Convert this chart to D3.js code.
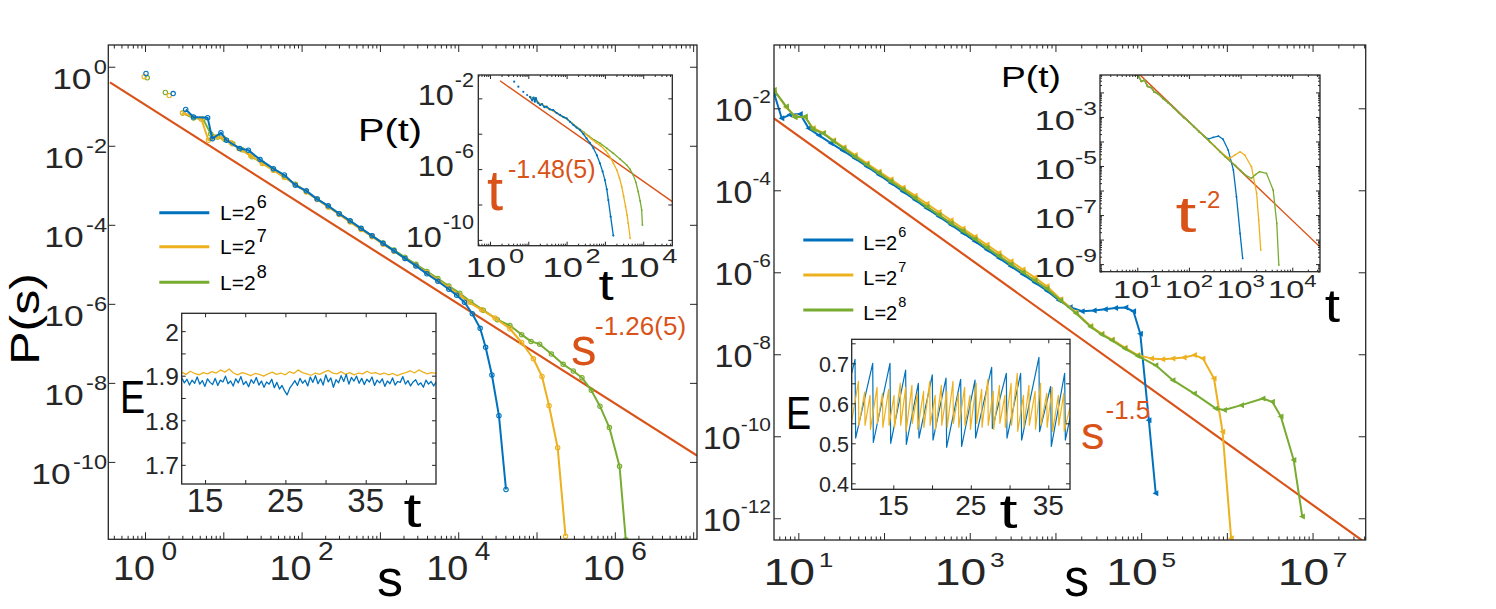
<!DOCTYPE html>
<html><head><meta charset="utf-8">
<script src="https://cdn.jsdelivr.net/npm/d3@7"></script>
<style>
body{margin:0;background:#fff;}
svg text{font-family:"Liberation Sans",Arial,Helvetica,sans-serif;}
</style>
</head><body>
<svg id="c" width="1496" height="609"></svg>
<script>
// ================= DATA =================
// Left main panel: P(s) vs s  (pairs [s, P])
const sL_blue = [[1.03,0.676],[2.29,0.209],[3.31,0.0832],[4.17,0.0537],[6.31,0.0513],[7.24,0.0151],[9.33,0.0214],[11.0,0.0138],[16.2,8.51e-3],[20.9,7.76e-3],[29.5,4.47e-3],[43.7,2.63e-3],[60.3,1.82e-3],[83.2,1.00e-3],[115,7.24e-4],[158,4.47e-4],[219,3.02e-4],[302,1.91e-4],[417,1.26e-4],[575,8.13e-5],[794,5.25e-5],[1096,3.39e-5],[1514,2.19e-5],[2089,1.41e-5],[2884,9.12e-6],[3981,5.75e-6],[5495,3.72e-6],[7586,2.34e-6],[9550,1.66e-6],[12020,1.10e-6],[15140,5.62e-7],[19050,2.40e-7],[22390,7.94e-8],[26920,1.58e-8],[33110,1.48e-9],[40740,2.00e-11]];
const sL_yellow = [[0.977,0.562],[2.04,0.186],[3.02,0.0676],[5.25,0.0468],[6.46,0.0138],[7.94,0.0166],[10.0,0.0158],[12.6,0.0120],[15.8,8.51e-3],[22.4,5.62e-3],[31.6,3.55e-3],[43.7,2.40e-3],[60.3,1.58e-3],[83.2,1.05e-3],[115,6.76e-4],[158,4.37e-4],[219,2.82e-4],[302,1.82e-4],[417,1.17e-4],[575,7.59e-5],[794,5.01e-5],[1096,3.24e-5],[1514,2.14e-5],[2089,1.41e-5],[2884,9.33e-6],[3981,6.17e-6],[5495,3.98e-6],[7586,2.57e-6],[10470,1.66e-6],[13490,1.12e-6],[19950,7.08e-7],[29510,4.37e-7],[45710,2.34e-7],[64570,1.05e-7],[91200,4.07e-8],[117500,1.45e-8],[144500,2.63e-9],[186200,2.29e-10],[234400,1.32e-12]];
const sL_green = [[1.07,0.525],[1.82,0.224],[3.02,0.0676],[4.17,0.0501],[5.50,0.0479],[6.92,0.0200],[8.51,0.0166],[10.5,0.0145],[13.2,0.0112],[17.4,7.94e-3],[23.4,5.25e-3],[31.6,3.63e-3],[43.7,2.45e-3],[60.3,1.62e-3],[83.2,1.07e-3],[115,6.92e-4],[158,4.47e-4],[219,2.88e-4],[302,1.91e-4],[417,1.23e-4],[575,7.94e-5],[794,5.25e-5],[1096,3.47e-5],[1514,2.29e-5],[2089,1.51e-5],[2884,1.00e-5],[3981,6.61e-6],[5495,4.37e-6],[7586,2.82e-6],[10470,1.86e-6],[14450,1.12e-6],[20890,6.92e-7],[31620,3.98e-7],[45710,2.82e-7],[64570,1.66e-7],[85110,1.12e-7],[109600,9.55e-8],[154900,5.37e-8],[218800,2.95e-8],[295100,2.00e-8],[380200,1.35e-8],[501200,6.46e-9],[645700,2.57e-9],[851100,7.41e-10],[1148000,7.76e-11],[1380000,1.07e-12]];
const sL_fitS = [0.357, 1.12e7];
const sL_fitP = [0.402, 1.44e-10];

// Right main panel: P(s) vs s
const sR_blue = [[5.20,2.34e-2],[6.40,5.70e-3],[7.94,6.92e-3],[10.5,7.24e-3],[13.2,3.24e-3],[17.4,2.19e-3],[24.0,1.41e-3],[33.1,9.33e-4],[45.7,6.03e-4],[63.1,3.80e-4],[87.1,2.40e-4],[120,1.51e-4],[166,9.33e-5],[229,5.89e-5],[316,3.63e-5],[437,2.29e-5],[603,1.45e-5],[832,9.12e-6],[1148,5.75e-6],[1585,3.55e-6],[2188,2.24e-6],[3020,1.41e-6],[4169,8.91e-7],[5754,5.62e-7],[7943,3.55e-7],[10960,2.09e-7],[14790,1.41e-7],[20420,1.12e-7],[28180,1.17e-7],[38020,1.26e-7],[50120,1.35e-7],[66070,1.38e-7],[81280,1.12e-7],[97720,3.16e-8],[123000,2.45e-10],[147900,4.07e-12]];
const sR_yellow = [[5.20,2.79e-2],[7.24,1.05e-2],[9.12,6.31e-3],[12.0,6.03e-3],[14.8,3.31e-3],[19.5,2.51e-3],[25.7,1.66e-3],[33.9,1.12e-3],[45.7,7.24e-4],[63.1,4.57e-4],[87.1,2.88e-4],[120,1.86e-4],[166,1.17e-4],[229,7.41e-5],[316,4.68e-5],[437,2.95e-5],[603,1.86e-5],[832,1.17e-5],[1148,7.41e-6],[1585,4.68e-6],[2188,2.95e-6],[3020,1.86e-6],[4169,1.17e-6],[5754,7.41e-7],[7943,4.57e-7],[11480,2.19e-7],[17380,1.05e-7],[25700,4.90e-8],[34670,3.16e-8],[45710,2.29e-8],[64570,1.45e-8],[91200,9.55e-9],[131800,7.94e-9],[177800,7.59e-9],[234400,7.94e-9],[316200,8.32e-9],[416900,9.55e-9],[524800,7.94e-9],[707900,2.57e-9],[891300,1.29e-10],[1122000,3.24e-13]];
const sR_green = [[5.20,2.79e-2],[7.24,1.10e-2],[9.12,6.03e-3],[12.0,6.31e-3],[14.8,3.09e-3],[19.5,2.45e-3],[25.7,1.58e-3],[33.9,1.05e-3],[45.7,6.61e-4],[63.1,4.17e-4],[87.1,2.63e-4],[120,1.66e-4],[166,1.05e-4],[229,6.46e-5],[316,3.98e-5],[437,2.51e-5],[603,1.58e-5],[832,1.02e-5],[1148,6.46e-6],[1585,3.98e-6],[2188,2.51e-6],[3020,1.58e-6],[4169,1.00e-6],[5754,6.31e-7],[7943,3.98e-7],[11480,2.04e-7],[17380,1.00e-7],[25700,4.68e-8],[34670,3.02e-8],[45710,2.19e-8],[64570,1.38e-8],[91200,9.12e-9],[147900,5.37e-9],[234400,2.34e-9],[416900,1.10e-9],[741300,4.79e-10],[933300,4.37e-10],[1479000,5.75e-10],[2630000,8.32e-10],[3388000,6.92e-10],[4266000,3.02e-10],[6026000,2.63e-11],[7586000,1.10e-12]];
const sR_fitS = [5.20, 4.17e7];
const sR_fitP = [5.70e-3, 2.5e-13];

// Left inset: P(t) vs t
const tL_blue = [[3.02,0.209],[4.27,8.71e-2],[5.50,4.57e-2],[7.41,2.34e-2],[9.33,1.55e-2],[11.0,1.23e-2],[12.6,7.59e-3],[13.8,1.12e-2],[14.8,6.46e-3],[15.8,1.02e-2],[17.8,5.62e-3],[20.4,4.17e-3],[22.9,4.79e-3],[26.3,3.16e-3],[30.2,3.39e-3],[36.3,2.40e-3],[44.7,2.19e-3],[55.0,1.48e-3],[67.6,1.15e-3],[83.2,8.71e-4],[100,7.41e-4],[123,4.68e-4],[151,3.09e-4],[182,2.24e-4],[224,1.62e-4],[275,9.55e-5],[331,5.50e-5],[407,3.02e-5],[501,1.51e-5],[617,6.03e-6],[741,2.14e-6],[871,7.41e-7],[1000,2.40e-7],[1122,7.08e-8],[1230,1.78e-8],[1413,2.04e-9],[1660,1.74e-10]];
const tL_yellow = [[11.0,1.17e-2],[13.2,8.91e-3],[15.8,7.94e-3],[20.0,5.01e-3],[25.1,3.80e-3],[31.6,2.82e-3],[39.8,2.24e-3],[50.1,1.66e-3],[63.1,1.20e-3],[79.4,9.12e-4],[100,7.24e-4],[126,4.68e-4],[158,3.02e-4],[200,2.00e-4],[251,1.32e-4],[331,8.51e-5],[447,5.01e-5],[603,3.02e-5],[794,2.00e-5],[1047,1.10e-5],[1349,5.01e-6],[1660,2.19e-6],[2042,8.91e-7],[2399,3.16e-7],[2754,1.02e-7],[3090,2.82e-8],[3467,7.59e-9],[3802,2.51e-9],[4074,8.71e-10],[4571,1.23e-10]];
const tL_green = [[11.0,1.20e-2],[13.8,1.05e-2],[17.4,6.03e-3],[21.9,4.68e-3],[27.5,3.47e-3],[34.7,2.63e-3],[43.7,2.09e-3],[55.0,1.51e-3],[69.2,1.10e-3],[87.1,8.32e-4],[110,6.03e-4],[138,3.98e-4],[174,2.63e-4],[219,1.82e-4],[288,1.17e-4],[380,7.41e-5],[525,4.47e-5],[741,2.95e-5],[1122,1.51e-5],[1660,7.76e-6],[2512,3.63e-6],[3715,1.70e-6],[4571,9.55e-7],[5495,4.68e-7],[6457,1.78e-7],[7413,5.25e-8],[8318,1.58e-8],[9120,4.90e-9],[9550,6.92e-10]];
const tL_fitT = [1.82, 5.75e4];
const tL_fitP = [0.0986, 1.45e-8];

// Right inset: P(t) vs t
const tR_head = [[8.91,5.13e-2],[10.5,4.79e-2],[12.0,2.82e-2],[13.8,3.16e-2],[15.8,1.78e-2],[18.6,1.58e-2],[21.4,1.05e-2],[25.1,8.91e-3],[31.6,5.62e-3],[39.8,3.80e-3],[50.1,2.40e-3],[63.1,1.51e-3],[79.4,9.55e-4],[100,6.31e-4],[126,3.98e-4],[158,2.51e-4],[200,1.58e-4]];
const tR_blueTail = [[240,1.26e-4],[295,1.48e-4],[372,1.66e-4],[457,1.23e-4],[575,4.47e-5],[724,6.92e-6],[832,5.62e-7],[977,1.78e-8],[1096,1.70e-9]];
const tR_yellowTail = [[251,1.00e-4],[316,6.31e-5],[398,3.98e-5],[501,2.63e-5],[617,2.04e-5],[776,2.82e-5],[977,3.80e-5],[1202,2.82e-5],[1622,9.33e-6],[2042,7.76e-7],[2239,6.31e-8],[2455,3.72e-9]];
const tR_greenTail = [[251,1.00e-4],[316,6.31e-5],[398,3.80e-5],[501,2.40e-5],[631,1.58e-5],[794,1.05e-5],[1000,6.61e-6],[1259,4.17e-6],[1622,3.16e-6],[1950,4.47e-6],[2344,5.89e-6],[3162,5.01e-6],[4266,1.05e-6],[5012,4.57e-8],[5495,9.12e-10]];
const tR_fitT = [11.3, 3.42e4];
const tR_fitP = [0.0518, 5.08e-9];

// Left E(t) inset: evenly sampled E values
const eL_t0 = 12.1;
const eL_blueStep = 0.32;
const eL_yellowStep = 0.5364;
const eL_blue = [1.895,1.884,1.892,1.879,1.890,1.883,1.897,1.881,1.889,1.876,1.893,1.885,1.880,1.894,1.878,1.890,1.886,1.899,1.882,1.888,
1.877,1.893,1.884,1.898,1.880,1.887,1.875,1.891,1.883,1.896,1.879,1.888,1.874,1.886,1.881,1.892,1.873,1.885,1.870,1.878,
1.866,1.857,1.872,1.880,1.889,1.878,1.894,1.883,1.890,1.877,1.897,1.885,1.900,1.882,1.893,1.879,1.902,1.886,1.895,1.874,
1.891,1.884,1.900,1.887,1.903,1.881,1.896,1.888,1.899,1.883,1.894,1.880,1.892,1.886,1.897,1.878,1.890,1.884,1.893,1.876,
1.888,1.882,1.895,1.879,1.887,1.885,1.898,1.881,1.889,1.877,1.886,1.891,1.879,1.884,1.874,1.890,1.881,1.887,1.877,1.886];
const eL_yellow = [1.908,1.903,1.910,1.905,1.902,1.907,1.904,1.909,1.906,1.913,1.908,1.915,1.906,1.902,1.907,1.904,1.900,1.905,1.903,1.899,
1.904,1.908,1.903,1.906,1.902,1.909,1.905,1.913,1.907,1.904,1.901,1.906,1.903,1.908,1.912,1.906,1.904,1.909,1.903,1.907,
1.902,1.906,1.904,1.910,1.905,1.907,1.903,1.906,1.902,1.905,1.900,1.904,1.907,1.911,1.906,1.913,1.908,1.904,1.907,1.905];

// Right E(t) inset: sawtooth (pairs [t, E])
const eR_blue = [[9.63,0.675],[10.06,0.71],[10.14,0.513],[12.34,0.70],[12.42,0.502],[14.57,0.70],[14.66,0.50],[16.59,0.683],[16.68,0.497],[18.23,0.65],[18.31,0.513],[20.03,0.671],[20.12,0.508],[21.80,0.663],[21.88,0.49],[23.69,0.66],[23.82,0.492],[25.54,0.658],[25.62,0.513],[27.69,0.69],[27.78,0.537],[29.58,0.675],[29.67,0.513],[31.43,0.675],[31.56,0.508],[33.79,0.715],[33.88,0.529],[35.30,0.642],[35.39,0.492],[37.11,0.675],[37.20,0.508],[37.88,0.57]];
const eR_yellow = [[9.63,0.555],[10.5,0.655],[10.55,0.545],[11.3,0.628],[11.35,0.545],[12.0,0.62],[12.05,0.535],[12.9,0.64],[12.95,0.55],[13.6,0.625],[13.65,0.54],[14.4,0.635],[14.45,0.545],[15.1,0.62],[15.15,0.54],[15.9,0.65],[15.95,0.545],[16.6,0.64],[16.65,0.53],[17.4,0.645],[17.45,0.55],[18.1,0.625],[18.15,0.535],[18.9,0.63],[18.95,0.54],[19.7,0.655],[19.75,0.545],[20.4,0.62],[20.45,0.535],[21.2,0.645],[21.25,0.545],[21.9,0.63],[21.95,0.54],[22.7,0.655],[22.75,0.55],[23.4,0.625],[23.45,0.54],[24.2,0.64],[24.25,0.545],[24.9,0.62],[24.95,0.535],[25.7,0.65],[25.75,0.55],[26.4,0.635],[26.45,0.54],[27.2,0.66],[27.25,0.545],[27.9,0.63],[27.95,0.535],[28.7,0.645],[28.75,0.55],[29.4,0.62],[29.45,0.54],[30.2,0.65],[30.25,0.545],[31.0,0.675],[31.05,0.53],[31.8,0.62],[31.85,0.54],[32.5,0.645],[32.55,0.545],[33.3,0.63],[33.35,0.535],[34.0,0.65],[34.05,0.545],[34.8,0.625],[34.85,0.54],[35.5,0.64],[35.55,0.53],[36.3,0.62],[36.35,0.545],[37.0,0.625],[37.05,0.53],[37.8,0.59]];

// Legend / tick label content
const legendLabels = ["6","7","8"];
const eLxLabels = [15,25,35];
const eLyLabels = [1.7,1.8,1.9,2.0];
const eRxLabels = [15,25,35];
const eRyLabels = [0.4,0.5,0.6,0.7];

// ================= RENDER =================
const C = {blue:'#0072BD', yellow:'#EDB120', green:'#77AC30', orange:'#D95319', ax:'#262626'};
const svg = d3.select('#c');
const defs = svg.append('defs');

function panel(id, b, xd, yd, xlog, ylog) {
  const x = (xlog ? d3.scaleLog() : d3.scaleLinear()).domain(xd).range([b.x0, b.x1]);
  const y = (ylog ? d3.scaleLog() : d3.scaleLinear()).domain(yd).range([b.y1, b.y0]);
  const g = svg.append('g');
  g.append('rect').attr('x', b.x0).attr('y', b.y0).attr('width', b.x1 - b.x0).attr('height', b.y1 - b.y0).attr('fill', '#fff');
  defs.append('clipPath').attr('id', 'clip-' + id).append('rect')
    .attr('x', b.x0).attr('y', b.y0).attr('width', b.x1 - b.x0).attr('height', b.y1 - b.y0);
  const plot = g.append('g').attr('clip-path', `url(#clip-${id})`);
  return {g, x, y, plot, b};
}

function addTicks(P, o) {
  const {g, x, y, b} = P;
  const ax = g.append('g');
  const add = (fn, scale, vals, len, tx, ty) => {
    if (!vals || !vals.length) return;
    ax.append('g').attr('transform', `translate(${tx},${ty})`)
      .call(fn(scale).tickValues(vals).tickSize(-len).tickFormat(() => ''));
  };
  add(d3.axisBottom, x, o.xMaj, o.L, 0, b.y1);
  add(d3.axisTop, x, o.xMaj, o.L, 0, b.y0);
  add(d3.axisBottom, x, o.xMin, o.l, 0, b.y1);
  add(d3.axisTop, x, o.xMin, o.l, 0, b.y0);
  add(d3.axisLeft, y, o.yMaj, o.L, b.x0, 0);
  add(d3.axisRight, y, o.yMaj, o.L, b.x1, 0);
  add(d3.axisLeft, y, o.yMin, o.l, b.x0, 0);
  add(d3.axisRight, y, o.yMin, o.l, b.x1, 0);
  ax.selectAll('.domain').remove();
  ax.selectAll('.tick text').remove();
  ax.selectAll('.tick line').attr('stroke', C.ax).attr('stroke-width', 1);
  g.append('rect').attr('x', b.x0).attr('y', b.y0).attr('width', b.x1 - b.x0).attr('height', b.y1 - b.y0)
    .attr('fill', 'none').attr('stroke', C.ax).attr('stroke-width', 1.3);
}

function decades(a, b) { const r = []; for (let k = a; k <= b; k++) r.push(Math.pow(10, k)); return r; }
function minors(a, b, dom) {
  const r = [];
  for (let k = a; k <= b; k++) for (let m = 2; m <= 9; m++) { const v = m * Math.pow(10, k); if (v >= dom[0] && v <= dom[1]) r.push(v); }
  return r;
}

function pow10Label(parent, x, y, exp, o) {
  const g = parent.append('g').attr('transform', `translate(${x},${y}) scale(${o.sx || 1},1)`);
  const t = g.append('text').attr('text-anchor', o.anchor).attr('font-size', o.fs).attr('fill', o.color || C.ax);
  t.append('tspan').text(o.base || '10');
  t.append('tspan').attr('font-size', o.sfs).attr('dx', o.gap || 0).attr('dy', o.dy).text(exp);
}
function text(parent, x, y, str, o) {
  const g = parent.append('g').attr('transform', `translate(${x},${y})${o.rot ? ' rotate(' + o.rot + ')' : ''} scale(${o.sx || 1},1)`);
  g.append('text').attr('text-anchor', o.anchor || 'start').attr('font-size', o.fs).attr('fill', o.color || '#000').text(str);
}

function drawSeries(P, data, color, o) {
  const line = d3.line().x(d => P.x(d[0])).y(d => P.y(d[1]));
  const from = o.from || 0;
  P.plot.append('path').datum(data.slice(from)).attr('d', line)
    .attr('fill', 'none').attr('stroke', color).attr('stroke-width', o.w || 2).attr('stroke-linejoin', 'round');
  if (o.marker === 'circle') {
    P.plot.selectAll(null).data(data).enter().append('circle')
      .attr('cx', d => P.x(d[0])).attr('cy', d => P.y(d[1])).attr('r', 2.2)
      .attr('fill', 'none').attr('stroke', color).attr('stroke-width', 1.1);
  } else if (o.marker === 'dot') {
    P.plot.selectAll(null).data(data).enter().append('circle')
      .attr('cx', d => P.x(d[0])).attr('cy', d => P.y(d[1])).attr('r', o.r || 1.1).attr('fill', color);
  } else if (o.marker === 'tri') {
    P.plot.selectAll(null).data(data).enter().append('path')
      .attr('transform', d => `translate(${P.x(d[0])},${P.y(d[1])})`)
      .attr('d', 'M-3.2,0 L2.6,-3 L2.6,3 Z').attr('fill', color);
  }
}
function drawFit(P, xs, ys, w) {
  const pts = xs.map((v, i) => [v, ys[i]]);
  P.plot.append('path').datum(pts).attr('d', d3.line().x(d => P.x(d[0])).y(d => P.y(d[1])))
    .attr('fill', 'none').attr('stroke', C.orange).attr('stroke-width', w);
}

// ---------- LEFT MAIN ----------
const LM = panel('lm', {x0:108.3, x1:697, y0:45, y1:539.3}, [0.34, 1.12e7], [1.10e-12, 3.55], true, true);
drawFit(LM, sL_fitS, sL_fitP, 2.2);
drawSeries(LM, sL_green, C.green, {from:2, marker:'circle', w:2});
drawSeries(LM, sL_yellow, C.yellow, {from:2, marker:'circle', w:2});
drawSeries(LM, sL_blue, C.blue, {from:2, marker:'circle', w:2});
addTicks(LM, {xMaj:decades(0,7), xMin:minors(-1,7,[0.34,1.12e7]), yMaj:[1,1e-2,1e-4,1e-6,1e-8,1e-10], L:7, l:3.5});
[0,2,4,6].forEach(k => pow10Label(svg, LM.x(Math.pow(10,k)), 580, String(k), {anchor:'middle', fs:35, sfs:26, dy:-20, gap:6, sx:1.08}));
[0,-2,-4,-6,-8,-10].forEach(k => pow10Label(svg, 107, LM.y(Math.pow(10,k)) + 22, String(k), {anchor:'end', fs:30, sfs:20, dy:-15, gap:2, sx:1.18}));
text(svg, 390, 596, 's', {anchor:'middle', fs:52});
text(svg, 39, 319, 'P(s)', {anchor:'middle', fs:41, rot:-90, sx:1.22});
// legend
[[C.blue,212.7],[C.yellow,246.7],[C.green,282.3]].forEach((c, i) => {
  svg.append('line').attr('x1',159.3).attr('x2',209.3).attr('y1',c[1]).attr('y2',c[1]).attr('stroke',c[0]).attr('stroke-width',3);
  pow10Label(svg, 220, c[1] + 7.5, legendLabels[i], {anchor:'start', base:'L=2', fs:21, sfs:18, dy:-12, gap:1, color:'#000'});
});
// annotation
text(svg, 571, 365, 's', {fs:51, color:C.orange});
text(svg, 595, 335, '-1.26(5)', {fs:26, color:C.orange});

// ---------- LEFT INSET P(t) ----------
const LI = panel('li', {x0:478.3, x1:672.3, y0:75, y1:245.7}, [0.495, 5.75e4], [4.68e-11, 0.209], true, true);
drawFit(LI, tL_fitT, tL_fitP, 1.4);
drawSeries(LI, tL_green, C.green, {marker:'dot', w:1.3, r:0.9});
drawSeries(LI, tL_yellow, C.yellow, {marker:'dot', w:1.3, r:0.9});
drawSeries(LI, tL_blue, C.blue, {from:5, marker:'dot', w:1.3, r:1.1});
addTicks(LI, {xMaj:decades(0,4), xMin:minors(-1,4,[0.495,5.75e4]), yMaj:[1e-2,1e-4,1e-6,1e-8,1e-10], L:4, l:2});
[0,2,4].forEach(k => pow10Label(svg, LI.x(Math.pow(10,k)) + 5, 276.7, String(k), {anchor:'middle', fs:28, sfs:21, dy:-13.4, gap:2, sx:1.3}));
[-2,-6,-10].forEach(k => pow10Label(svg, 474, LI.y(Math.pow(10,k)) + 7, String(k), {anchor:'end', fs:30, sfs:20, dy:-18, gap:1, sx:1.08}));
text(svg, 358, 140.5, 'P(t)', {fs:31, sx:1.28});
text(svg, 606, 300, 't', {anchor:'middle', fs:42, sx:1.3});
text(svg, 495, 210, 't', {anchor:'middle', fs:58, color:C.orange});
text(svg, 508, 178, '-1.48(5)', {fs:25, color:C.orange});

// ---------- LEFT INSET E(t) ----------
const LE = panel('le', {x0:181.7, x1:436, y0:313.3, y1:484}, [12.09, 43.75], [1.657, 2.040], false, false);
drawSeries(LE, eL_yellow.map((v, i) => [eL_t0 + i * eL_yellowStep, v]), C.yellow, {w:1.3});
drawSeries(LE, eL_blue.map((v, i) => [eL_t0 + i * eL_blueStep, v]), C.blue, {w:1.3});
addTicks(LE, {xMaj:[15,20,25,30,35,40], yMaj:[1.7,1.75,1.8,1.85,1.9,1.95,2.0], L:4});
eLxLabels.forEach(v => text(svg, LE.x(v), 511.7, String(v), {anchor:'middle', fs:33, color:C.ax}));
eLyLabels.forEach(v => text(svg, 179, LE.y(v) + 9.5, v === 2 ? '2' : v.toFixed(1), {anchor:'end', fs:24.5, color:C.ax}));
text(svg, 120, 413, 'E', {fs:46, sx:0.82});
text(svg, 412.5, 527, 't', {anchor:'middle', fs:48, sx:1.35});

// ---------- RIGHT MAIN ----------
const RM = panel('rm', {x0:774, x1:1365.7, y0:45, y1:540}, [5.20, 4.17e7], [2.95e-13, 0.35], true, true);
drawFit(RM, sR_fitS, sR_fitP, 2.2);
drawSeries(RM, sR_blue, C.blue, {marker:'tri', w:2});
drawSeries(RM, sR_yellow, C.yellow, {marker:'tri', w:2});
drawSeries(RM, sR_green, C.green, {marker:'tri', w:2});
addTicks(RM, {xMaj:decades(1,7), xMin:minors(0,7,[5.2,4.17e7]), yMaj:[1e-2,1e-4,1e-6,1e-8,1e-10,1e-12], L:7, l:3.5});
[1,3,5,7].forEach(k => pow10Label(svg, RM.x(Math.pow(10,k)), 585, String(k), {anchor:'middle', fs:37, sfs:21, dy:-18.3, gap:3, sx:1.25}));
[-2,-4,-6,-8,-10,-12].forEach(k => pow10Label(svg, 771, RM.y(Math.pow(10,k)) + 13, String(k), {anchor:'end', fs:31, sfs:19, dy:-18, gap:0, sx:1.1}));
text(svg, 1076.7, 596, 's', {anchor:'middle', fs:54, sx:0.92});
[[C.blue,240],[C.yellow,275],[C.green,310]].forEach((c, i) => {
  svg.append('line').attr('x1',803.3).attr('x2',853.3).attr('y1',c[1]).attr('y2',c[1]).attr('stroke',c[0]).attr('stroke-width',3);
  pow10Label(svg, 863.3, c[1] + 10, legendLabels[i], {anchor:'start', base:'L=2', fs:20, sfs:14.5, dy:-13, gap:1, color:'#000'});
});
text(svg, 1081, 448.5, 's', {fs:47, color:C.orange});
text(svg, 1105.5, 418.5, '-1.5', {fs:26, color:C.orange});

// ---------- RIGHT INSET P(t) ----------
const RI = panel('ri', {x0:1100, x1:1320, y0:75, y1:271.7}, [1.90, 3.44e4], [4.90e-10, 5.13e-2], true, true);
drawFit(RI, tR_fitT, tR_fitP, 1.4);
drawSeries(RI, tR_head.concat(tR_blueTail), C.blue, {marker:'dot', w:1.3, r:0.9});
drawSeries(RI, tR_head.concat(tR_yellowTail), C.yellow, {marker:'dot', w:1.3, r:0.9});
drawSeries(RI, tR_head.concat(tR_greenTail), C.green, {marker:'dot', w:1.3, r:0.9});
addTicks(RI, {xMaj:decades(1,4), xMin:minors(0,4,[1.9,3.44e4]), yMaj:decades(-9,-2), yMin:minors(-10,-2,[4.9e-10,5.13e-2]), L:4, l:2});
[1,2,3,4].forEach(k => pow10Label(svg, RI.x(Math.pow(10,k)), 298.3, String(k), {anchor:'middle', fs:23.5, sfs:16, dy:-11.6, gap:0, sx:1.38}));
[-3,-5,-7,-9].forEach(k => pow10Label(svg, 1097, RI.y(Math.pow(10,k)) + 13, String(k), {anchor:'end', fs:28, sfs:19, dy:-15, gap:0, sx:1.3}));
text(svg, 1001, 87, 'P(t)', {fs:30, sx:1.24});
text(svg, 1332.5, 322, 't', {anchor:'middle', fs:46, sx:1.2});
text(svg, 1186, 231.7, 't', {anchor:'middle', fs:50, sx:1.5, color:C.orange});
text(svg, 1199, 208, '-2', {fs:24, color:C.orange});

// ---------- RIGHT INSET E(t) ----------
const RE = panel('re', {x0:851.7, x1:1070, y0:339.3, y1:489.3}, [9.63, 37.8], [0.385, 0.76], false, false);
drawSeries(RE, eR_blue, C.blue, {w:1.2});
drawSeries(RE, eR_yellow, C.yellow, {w:1.2});
addTicks(RE, {xMaj:[15,20,25,30,35], yMaj:[0.4,0.45,0.5,0.55,0.6,0.65,0.7,0.75], L:4});
eRxLabels.forEach(v => text(svg, RE.x(v), 515, String(v), {anchor:'middle', fs:28, color:C.ax}));
eRyLabels.forEach(v => text(svg, 849, RE.y(v) + 8.5, v.toFixed(1), {anchor:'end', fs:21.5, color:C.ax}));
text(svg, 786, 428.5, 'E', {fs:46, sx:0.82});
text(svg, 1008.5, 528, 't', {anchor:'middle', fs:48, sx:1.35});
</script>
</body></html>
